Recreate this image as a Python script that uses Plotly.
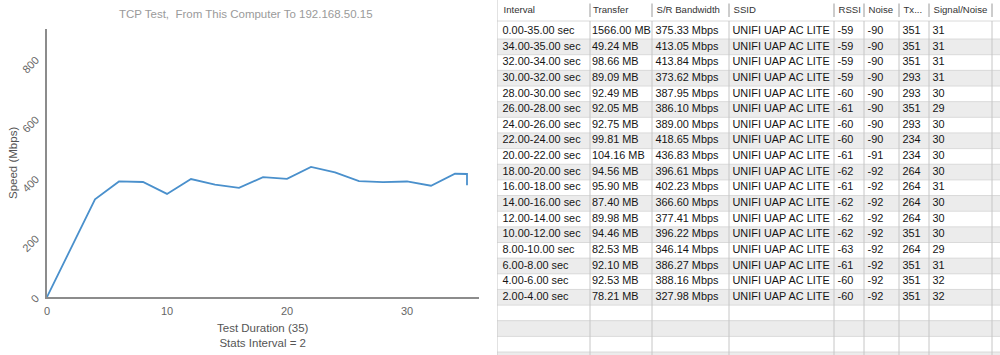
import plotly.graph_objects as go

# ---------------- chart data ----------------
chart_time = [0, 4, 6, 8, 10, 12, 14, 16, 18, 20, 22, 24, 26, 28, 30, 32, 34, 35, 35]
chart_speed = [0, 327.98, 388.16, 386.27, 346.14, 396.22, 377.41, 366.60, 402.23,
               396.61, 436.83, 418.65, 389.00, 386.10, 387.95, 373.62, 413.84, 413.05, 375.33]
x_ticks = [0, 10, 20, 30]
y_ticks = [0, 200, 400, 600, 800]
chart_title = "TCP Test,\u00a0 From This Computer To 192.168.50.15"
x_title = "Test Duration (35)<br>Stats Interval = 2"
y_title = "Speed (Mbps)"

# ---------------- table data ----------------
headers = ["Interval", "Transfer", "S/R Bandwidth", "SSID", "RSSI", "Noise", "Tx...", "Signal/Noise"]
intervals = ["0.00-35.00 sec", "34.00-35.00 sec", "32.00-34.00 sec", "30.00-32.00 sec",
             "28.00-30.00 sec", "26.00-28.00 sec", "24.00-26.00 sec", "22.00-24.00 sec",
             "20.00-22.00 sec", "18.00-20.00 sec", "16.00-18.00 sec", "14.00-16.00 sec",
             "12.00-14.00 sec", "10.00-12.00 sec", "8.00-10.00 sec", "6.00-8.00 sec",
             "4.00-6.00 sec", "2.00-4.00 sec"]
transfer = ["1566.00 MB", "49.24 MB", "98.66 MB", "89.09 MB", "92.49 MB", "92.05 MB",
            "92.75 MB", "99.81 MB", "104.16 MB", "94.56 MB", "95.90 MB", "87.40 MB",
            "89.98 MB", "94.46 MB", "82.53 MB", "92.10 MB", "92.53 MB", "78.21 MB"]
bandwidth = ["375.33 Mbps", "413.05 Mbps", "413.84 Mbps", "373.62 Mbps", "387.95 Mbps",
             "386.10 Mbps", "389.00 Mbps", "418.65 Mbps", "436.83 Mbps", "396.61 Mbps",
             "402.23 Mbps", "366.60 Mbps", "377.41 Mbps", "396.22 Mbps", "346.14 Mbps",
             "386.27 Mbps", "388.16 Mbps", "327.98 Mbps"]
ssid = ["UNIFI UAP AC LITE"] * 18
rssi = ["-59", "-59", "-59", "-59", "-60", "-61", "-60", "-60", "-61", "-62", "-61",
        "-62", "-62", "-62", "-63", "-61", "-60", "-60"]
noise = ["-90", "-90", "-90", "-90", "-90", "-90", "-90", "-90", "-91", "-92", "-92",
         "-92", "-92", "-92", "-92", "-92", "-92", "-92"]
tx = ["351", "351", "351", "293", "293", "351", "293", "234", "234", "264", "264",
      "264", "264", "351", "264", "351", "351", "351"]
snr = ["31", "31", "31", "31", "30", "29", "30", "30", "30", "30", "31", "30", "30",
       "30", "29", "31", "32", "32"]
columns = [intervals, transfer, bandwidth, ssid, rssi, noise, tx, snr]

# ---------------- table layout (pixel units of the table axes) ----------------
col_edges = [497, 590, 652, 729, 834, 864, 899, 929, 992, 1000]
col_pads = [5.5, 2.0, 3.5, 3.5, 3.5, 3.5, 3.5, 3.5]
header_line_y = 21
row_top = 23.4
row_h = 15.65
n_rows = 22  # 18 data rows + empty rows filling the view

row_edges = [row_top + row_h * i for i in range(n_rows + 1)]
row_centers = [row_top + row_h * (i + 0.5) for i in range(len(intervals))]

FONT = "Liberation Sans, Arial, Helvetica, sans-serif"

fig = go.Figure()

# line chart
fig.add_trace(go.Scatter(
    x=chart_time, y=chart_speed, mode="lines",
    line=dict(color="#4a90cc", width=1.8),
    xaxis="x", yaxis="y", hoverinfo="skip"))

# table row backgrounds (alternating)
fig.add_trace(go.Heatmap(
    z=[[i % 2] for i in range(n_rows)],
    x=[col_edges[0], col_edges[-1]], y=row_edges,
    colorscale=[[0, "#ffffff"], [1, "#ececec"]], zmin=0, zmax=1,
    showscale=False, hoverinfo="skip", xaxis="x2", yaxis="y2"))

# horizontal row lines
hx, hy = [], []
for y in [header_line_y] + row_edges[1:]:
    hx += [col_edges[0], col_edges[-1], None]
    hy += [y, y, None]
fig.add_trace(go.Scatter(x=hx, y=hy, mode="lines", line=dict(color="#dadada", width=1),
                         xaxis="x2", yaxis="y2", hoverinfo="skip"))

# vertical column lines in body
vx, vy = [], []
for x in col_edges[1:-1]:
    vx += [x, x, None]
    vy += [header_line_y, 360, None]
vx += [col_edges[0], col_edges[0], None]
vy += [-5, 360, None]
fig.add_trace(go.Scatter(x=vx, y=vy, mode="lines", line=dict(color="#c6c6c6", width=1),
                         xaxis="x2", yaxis="y2", hoverinfo="skip"))

# header separators
sx, sy = [], []
for x in col_edges[1:-1]:
    sx += [x, x, None]
    sy += [3.5, 17, None]
fig.add_trace(go.Scatter(x=sx, y=sy, mode="lines", line=dict(color="#9a9a9a", width=1),
                         xaxis="x2", yaxis="y2", hoverinfo="skip"))

# header text
fig.add_trace(go.Scatter(
    x=[e + p + 1 for e, p in zip(col_edges[:len(headers)], col_pads)], y=[10.5] * len(headers),
    text=headers, mode="text", textposition="middle right",
    textfont=dict(family=FONT, size=9.6, color="#333333"),
    xaxis="x2", yaxis="y2", hoverinfo="skip"))

# body text
for c, values in enumerate(columns):
    fig.add_trace(go.Scatter(
        x=[col_edges[c] + col_pads[c]] * len(values), y=row_centers[:len(values)],
        text=values, mode="text", textposition="middle right",
        textfont=dict(family=FONT, size=10.9, color="#151515"),
        xaxis="x2", yaxis="y2", hoverinfo="skip", cliponaxis=True))

grey = "#666666"
fig.update_layout(
    width=1000, height=355,
    margin=dict(l=0, r=0, t=0, b=0),
    paper_bgcolor="white", plot_bgcolor="white",
    showlegend=False, hovermode=False,
    font=dict(family=FONT, color=grey),
    xaxis=dict(domain=[0.047, 0.479], range=[0, 36], tickvals=x_ticks,
               showgrid=False, zeroline=False, showline=True, linecolor="#8c8c8c",
               linewidth=2, ticks="", tickfont=dict(size=11, color=grey),
               ticklabelstandoff=3, anchor="y", automargin=False),
    yaxis=dict(domain=[(355 - 297) / 355, (355 - 29) / 355], range=[0, 900],
               tickvals=y_ticks, tickangle=-45,
               showgrid=False, zeroline=False, showline=True, linecolor="#8c8c8c",
               linewidth=1.5, ticks="", tickfont=dict(size=11, color=grey),
               ticklabelstandoff=7, anchor="x", automargin=False),
    xaxis2=dict(domain=[0.497, 1.0], range=[497, 1000], visible=False, anchor="y2"),
    yaxis2=dict(domain=[0, 1], range=[355, 0], visible=False, anchor="x2"),
    annotations=[
        dict(text=chart_title, x=246 / 1000, y=1 - 14 / 355, xref="paper", yref="paper",
             showarrow=False, font=dict(size=11.5, color="#9a9a9a"), xanchor="center", yanchor="middle"),
        dict(text=x_title, x=263 / 1000, y=1 - 335.5 / 355, xref="paper", yref="paper",
             showarrow=False, font=dict(size=11.5, color="#555555"), xanchor="center", yanchor="middle"),
        dict(text=y_title, x=13 / 1000, y=1 - 163 / 355, xref="paper", yref="paper",
             showarrow=False, textangle=-90, font=dict(size=11.5, color="#555555"),
             xanchor="center", yanchor="middle"),
    ],
)

fig.write_html("out.html")
